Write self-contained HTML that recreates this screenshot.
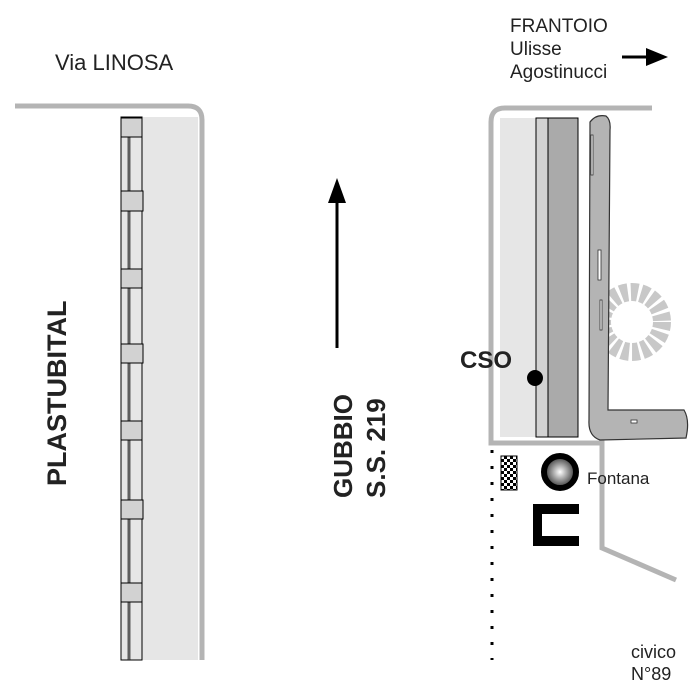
<!DOCTYPE html>
<html><head><style>body{margin:0;background:#fff}svg{display:block}</style></head><body>
<svg width="700" height="700" viewBox="0 0 700 700" xmlns="http://www.w3.org/2000/svg" font-family="Liberation Sans, sans-serif">
<rect width="700" height="700" fill="#fff"/>
<rect x="142" y="117" width="56" height="543" fill="#e6e6e6"/>
<path d="M15 106 H188 Q202 106 202 120 V660" fill="none" stroke="#b4b4b4" stroke-width="5"/>
<rect x="121" y="117" width="21" height="543" fill="#e6e6e6" stroke="#000" stroke-width="1"/>
<rect x="128" y="137" width="2" height="523" fill="#888" stroke="#000" stroke-width="0.6"/>
<g fill="#d2d2d2" stroke="#000" stroke-width="1">
<rect x="121" y="118" width="21" height="19"/>
<rect x="121" y="191" width="22" height="20"/>
<rect x="121" y="269" width="21" height="19"/>
<rect x="121" y="344" width="22" height="19"/>
<rect x="121" y="421" width="21" height="19"/>
<rect x="121" y="500" width="22" height="19"/>
<rect x="121" y="583" width="21" height="19"/>
</g>
<text x="55" y="70" font-size="22" fill="#222">Via LINOSA</text>
<text transform="translate(66,486) rotate(-90)" font-size="27" font-weight="bold" fill="#222">PLASTUBITAL</text>
<line x1="337" y1="348" x2="337" y2="198" stroke="#000" stroke-width="3"/>
<polygon points="337,178 328,203 346,203" fill="#000"/>
<text transform="translate(352,498) rotate(-90)" font-size="26" font-weight="bold" fill="#222">GUBBIO</text>
<text transform="translate(385,498) rotate(-90)" font-size="26" font-weight="bold" fill="#222">S.S. 219</text>
<text font-size="19" fill="#222"><tspan x="510" y="32">FRANTOIO</tspan><tspan x="510" y="55">Ulisse</tspan><tspan x="510" y="78">Agostinucci</tspan></text>
<line x1="622" y1="57" x2="650" y2="57" stroke="#000" stroke-width="3"/>
<polygon points="668,57 646,48 646,66" fill="#000"/>
<rect x="500" y="118" width="36" height="319" fill="#e6e6e6"/>
<path d="M652 108 H505 Q491 108 491 122 V443 H602 V548 L676 580" fill="none" stroke="#b4b4b4" stroke-width="5"/>
<rect x="536" y="118" width="12" height="319" fill="#d2d2d2" stroke="#000" stroke-width="1"/>
<rect x="548" y="118" width="30" height="319" fill="#aaa" stroke="#000" stroke-width="1"/>
<!-- tree -->
<circle cx="632" cy="322" r="30" fill="none" stroke="#c8c8c8" stroke-width="18" stroke-dasharray="7 3"/>
<!-- hedge L -->
<path d="M590 122 Q596 114 606 116 Q611 120 610 130 L608 410 L684 410 Q690 420 686 438 L600 440 Q588 436 589 420 Z" fill="#b4b4b4" stroke="#333" stroke-width="1.2"/>
<g fill="#fff" stroke="#333" stroke-width="0.8">
<rect x="591" y="135" width="2" height="40"/><rect x="598" y="250" width="3" height="30"/><rect x="631" y="420" width="6" height="3"/><rect x="600" y="300" width="2" height="30"/>
</g>
<text x="460" y="368" font-size="24" font-weight="bold" fill="#222">CSO</text>
<circle cx="535" cy="378" r="8" fill="#000"/>
<line x1="492" y1="450" x2="492" y2="660" stroke="#000" stroke-width="3" stroke-dasharray="3 13"/>
<defs><pattern id="ck" width="6" height="6" patternUnits="userSpaceOnUse"><rect width="6" height="6" fill="#fff"/><rect width="3" height="3" fill="#000"/><rect x="3" y="3" width="3" height="3" fill="#000"/></pattern>
<radialGradient id="fg" cx="0.5" cy="0.5" r="0.5"><stop offset="0" stop-color="#fff"/><stop offset="1" stop-color="#333"/></radialGradient></defs>
<rect x="501" y="456" width="16" height="34" fill="url(#ck)" stroke="#000"/>
<circle cx="560" cy="472" r="16" fill="url(#fg)" stroke="#000" stroke-width="6"/>
<text x="587" y="484" font-size="17" fill="#222">Fontana</text>
<path d="M579 504 H533 V546 H579 V536 H542 V514 H579 Z" fill="#000"/>
<text font-size="18" fill="#222"><tspan x="631" y="658">civico</tspan><tspan x="631" y="680">N°89</tspan></text>
</svg>
</body></html>
